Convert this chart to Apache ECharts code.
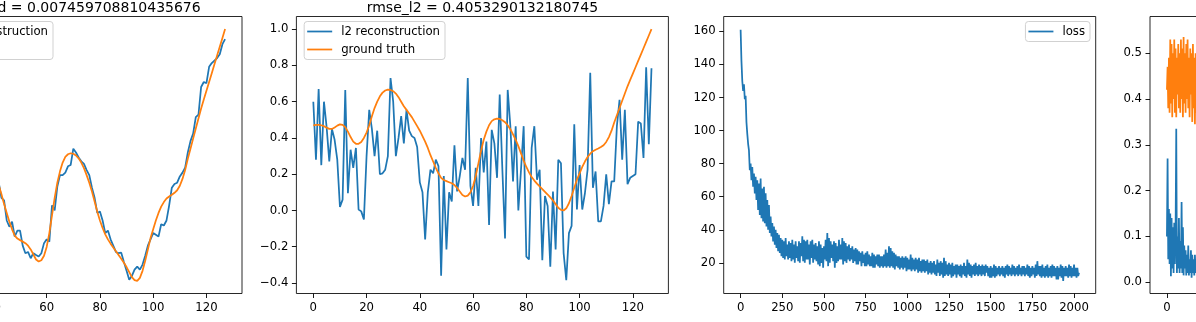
<!DOCTYPE html>
<html>
<head>
<meta charset="utf-8">
<script src="https://cdn.jsdelivr.net/npm/echarts@6/dist/echarts.min.js"></script>
<style>
  html, body { margin: 0; padding: 0; background: #fff; overflow: hidden; }
  #chart { width: 1196px; height: 322px; }
</style>
</head>
<body>
<div id="chart"></div>
<script>
// ground truth signal (shared by the first two panels), index 0..127
const groundTruth = [
  0.47, 0.472, 0.472, 0.47, 0.465, 0.457, 0.45, 0.45, 0.458, 0.468,
  0.475, 0.472, 0.46, 0.435, 0.405, 0.38, 0.368, 0.368, 0.378, 0.40,
  0.43, 0.47, 0.52, 0.565, 0.60, 0.63, 0.65, 0.662, 0.667, 0.665,
  0.658, 0.645, 0.625, 0.60, 0.575, 0.555, 0.535, 0.515, 0.49, 0.465,
  0.44, 0.41, 0.38, 0.345, 0.305, 0.27, 0.235, 0.205, 0.18, 0.168,
  0.162, 0.156, 0.15, 0.14, 0.125, 0.105, 0.085, 0.077, 0.082, 0.10,
  0.135, 0.19, 0.26, 0.33, 0.39, 0.435, 0.47, 0.493, 0.503, 0.507,
  0.505, 0.498, 0.487, 0.47, 0.448, 0.42, 0.39, 0.355, 0.315, 0.275,
  0.24, 0.21, 0.185, 0.165, 0.148, 0.133, 0.118, 0.103, 0.088, 0.072,
  0.055, 0.035, 0.015, 0.003, 0.0, 0.012, 0.04, 0.08, 0.125, 0.17,
  0.205, 0.24, 0.27, 0.295, 0.313, 0.327, 0.335, 0.342, 0.35, 0.36,
  0.378, 0.405, 0.44, 0.485, 0.525, 0.565, 0.605, 0.645, 0.685, 0.72,
  0.755, 0.79, 0.825, 0.86, 0.895, 0.93, 0.965, 1.0
];

const learnedRecon = [
  0.47, 0.46, 0.48, 0.47, 0.45, 0.46, 0.44, 0.45, 0.46, 0.47,
  0.48, 0.47, 0.45, 0.43, 0.40, 0.38, 0.37, 0.36, 0.38, 0.40,
  0.43, 0.48, 0.52, 0.56, 0.60, 0.62, 0.65, 0.66, 0.67, 0.66,
  0.66, 0.64, 0.62, 0.60, 0.58, 0.55, 0.53, 0.52, 0.49, 0.47,
  0.45, 0.42, 0.39, 0.33, 0.32, 0.24, 0.215, 0.235, 0.176, 0.20,
  0.20, 0.14, 0.11, 0.115, 0.09, 0.11, 0.103, 0.097, 0.11, 0.15,
  0.165, 0.156, 0.30, 0.28, 0.375, 0.42, 0.42, 0.43, 0.455, 0.46,
  0.525, 0.51, 0.49, 0.475, 0.465, 0.44, 0.42, 0.37, 0.33, 0.27,
  0.276, 0.24, 0.19, 0.20, 0.165, 0.14, 0.115, 0.11, 0.112, 0.075,
  0.04, 0.005, 0.02, 0.045, 0.057, 0.045, 0.065, 0.10, 0.14, 0.165,
  0.19, 0.183, 0.176, 0.225, 0.22, 0.24, 0.30, 0.37, 0.385, 0.39,
  0.415, 0.43, 0.45, 0.51, 0.555, 0.585, 0.65, 0.66, 0.77, 0.79,
  0.785, 0.85, 0.865, 0.875, 0.885, 0.90, 0.94, 0.96
];

const l2Recon = [
  0.60, 0.28, 0.67, 0.25, 0.60, 0.46, 0.27, 0.45, 0.39, 0.28,
  0.02, 0.06, 0.665, 0.095, 0.335, 0.235, 0.345, 0.005, -0.005, -0.05,
  0.30, 0.555, 0.45, 0.30, 0.44, 0.20, 0.205, 0.225, 0.30, 0.73,
  0.60, 0.30, 0.40, 0.52, 0.37, 0.555, 0.44, 0.41, 0.40, 0.35,
  0.155, 0.10, -0.16, 0.10, 0.225, 0.205, 0.28, 0.245, -0.36, 0.19,
  -0.215, 0.10, 0.05, 0.36, 0.105, 0.19, 0.29, 0.225, 0.73, 0.135,
  0.025, 0.235, 0.025, 0.40, 0.21, 0.38, -0.08, 0.445, 0.37, 0.18,
  0.64, 0.225, -0.155, 0.665, 0.465, 0.16, 0.465, 0.0, 0.225, 0.465,
  -0.255, -0.27, 0.345, 0.465, 0.17, 0.225, -0.275, 0.08, 0.025, -0.31,
  0.105, -0.215, 0.28, 0.26, -0.235, -0.385, -0.125, -0.085, 0.475, 0.005,
  0.25, 0.005, 0.095, 0.225, 0.76, 0.125, 0.215, -0.06, -0.06, 0.025,
  0.20, 0.035, 0.16, 0.16, 0.465, 0.61, 0.28, 0.555, 0.145, 0.18,
  0.19, 0.20, 0.49, 0.48, 0.29, 0.79, 0.365, 0.785
];

// training loss, one reading every 5 iterations (0..2030)
const lossStep = 5;
const lossValues = [
  161, 142, 130, 124, 128, 119, 121, 105, 98, 92,
  88, 76, 80, 70, 78, 66, 74, 62, 72, 58,
  70, 52, 68, 49, 71, 47, 65, 45, 66, 44,
  62, 42, 58, 40, 55, 38, 48, 36, 44, 33,
  42, 31, 40, 29, 38, 27, 37, 26, 35, 24,
  34, 23, 33, 22, 35, 24, 31, 22, 33, 23,
  32, 21, 34, 22, 31, 20, 33, 23, 30, 21,
  33, 20, 32, 24, 36, 21, 34, 20, 33, 22,
  34, 22, 31, 19, 33, 23, 34, 20, 31, 22,
  32, 21, 30, 19, 33, 18, 31, 20, 29, 17,
  30, 22, 34, 21, 38, 18, 35, 20, 33, 23,
  31, 21, 33, 17, 32, 20, 30, 21, 34, 22,
  31, 22, 35, 19, 33, 21, 32, 20, 30, 22,
  31, 21, 29, 22, 30, 20, 28, 21, 29, 19,
  28, 19, 27, 21, 26, 18, 27, 20, 25, 18,
  26, 18, 27, 19, 25, 18, 24, 18, 26, 17,
  25, 17, 24, 19, 25, 18, 25, 17, 24, 18,
  24, 17, 25, 18, 28, 17, 26, 18, 30, 17,
  29, 18, 27, 17, 26, 16, 25, 18, 24, 17,
  24, 16, 23, 17, 24, 16, 23, 17, 24, 15,
  23, 16, 22, 16, 25, 15, 23, 16, 22, 15,
  23, 16, 22, 14, 23, 15, 21, 14, 22, 15,
  22, 14, 21, 15, 22, 13, 20, 14, 21, 13,
  20, 14, 21, 13, 19, 12, 22, 14, 20, 12,
  21, 13, 20, 11, 23, 12, 21, 13, 19, 12,
  20, 13, 19, 11, 20, 12, 18, 13, 19, 11,
  19, 13, 18, 12, 19, 11, 18, 13, 20, 12,
  18, 11, 22, 13, 20, 12, 19, 11, 18, 13,
  19, 12, 20, 13, 18, 12, 19, 13, 18, 12,
  19, 13, 18, 12, 19, 14, 18, 12, 17, 11,
  18, 11, 17, 12, 19, 11, 18, 12, 17, 13,
  18, 12, 17, 13, 18, 12, 17, 11, 18, 13,
  19, 12, 18, 13, 17, 12, 19, 13, 18, 12,
  17, 13, 18, 12, 19, 13, 17, 12, 18, 13,
  18, 12, 17, 13, 19, 12, 18, 11, 17, 12,
  18, 13, 17, 11, 19, 12, 21, 13, 18, 12,
  18, 11, 19, 12, 17, 11, 18, 12, 19, 11,
  17, 12, 18, 11, 19, 12, 18, 12, 17, 10,
  18, 10, 17, 12, 19, 11, 18, 9, 17, 12,
  18, 12, 17, 11, 19, 12, 18, 11, 17, 12,
  19, 12, 17, 11, 17, 12, 14
];

// last panel, only its first iterations are inside the window
const paramStep = 4;
const paramBlue = [
  0.10, 0.27, 0.05, 0.16, 0.04, 0.15, 0.013, 0.14, 0.03, 0.12,
  0.02, 0.13, 0.04, 0.11, 0.335, 0.02, 0.10, 0.03, 0.14, 0.02,
  0.09, 0.03, 0.175, 0.02, 0.12, 0.015, 0.08, 0.03, 0.07, 0.015,
  0.06, 0.02, 0.08, 0.015, 0.05, 0.02, 0.07, 0.01, 0.06, 0.02,
  0.05, 0.015, 0.06, 0.02, 0.05, 0.015
];
const paramOrange = [
  0.42, 0.47, 0.38, 0.49, 0.37, 0.53, 0.39, 0.52, 0.36, 0.50,
  0.40, 0.53, 0.37, 0.51, 0.36, 0.49, 0.41, 0.52, 0.38, 0.50,
  0.37, 0.53, 0.40, 0.51, 0.36, 0.535, 0.39, 0.50, 0.37, 0.52,
  0.40, 0.53, 0.38, 0.49, 0.36, 0.51, 0.41, 0.50, 0.35, 0.52,
  0.38, 0.49, 0.345, 0.50, 0.37, 0.48
];

const signalTicks = [0, 20, 40, 60, 80, 100, 120];
const learnedYTicks = [0, 0.2, 0.4, 0.6, 0.8, 1.0];
const l2YTicks = [-0.4, -0.2, 0, 0.2, 0.4, 0.6, 0.8, 1.0];
const lossXTicks = [0, 250, 500, 750, 1000, 1250, 1500, 1750, 2000];
const lossYTicks = [20, 40, 60, 80, 100, 120, 140, 160];
const paramXTicks = [0, 500, 1000, 1500, 2000];
const paramYTicks = [0, 0.1, 0.2, 0.3, 0.4, 0.5];

const titles = ['rmse_learned = 0.007459708810435676', 'rmse_l2 = 0.4053290132180745'];

const FONT = 'DejaVu Sans';
const BLUE = '#1f77b4';
const ORANGE = '#ff7f0e';
const INK = '#000';

const indexed = (vals, step) => vals.map((v, i) => [i * step, v]);
const fixed = d => v => v.toFixed(d).replace('-', '\u2212');
const plain = v => String(v);

const GRID_TOP = 16.5, GRID_H = 277, GRID_W = 372;
const gridLefts = [-130, 296.4, 723.7, 1150];

function valueAxis(gi, min, max, ticks, fmt, isX) {
  return {
    type: 'value', gridIndex: gi, min: min, max: max,
    axisLine: { show: false, onZero: false },
    splitLine: { show: false },
    axisTick: { show: true, inside: false, length: 4.5, customValues: ticks,
                lineStyle: { color: INK, width: 0.9 } },
    axisLabel: { customValues: ticks, formatter: fmt, color: INK,
                 fontFamily: FONT, fontSize: 11.7, margin: isX ? 8.5 : 8 }
  };
}

function lineSeries(name, data, color, gi) {
  return {
    type: 'line', name: name, data: data, xAxisIndex: gi, yAxisIndex: gi,
    symbol: 'none', showSymbol: false, animation: false, clip: true,
    lineStyle: { color: color, width: 1.75 }, itemStyle: { color: color }
  };
}

function legendBox(names, right) {
  return {
    orient: 'vertical', right: right, top: 21.5, data: names,
    selectedMode: false, icon: 'rect', itemWidth: 25, itemHeight: 1.75, itemGap: 4,
    padding: [3, 5, 3, 3],
    backgroundColor: 'rgba(255,255,255,0.8)',
    borderColor: '#cccccc', borderWidth: 0.9, borderRadius: 3,
    textStyle: { fontFamily: FONT, fontSize: 11.7, color: INK, lineHeight: 14,
                 padding: [0, 0, 0, 4] }
  };
}

const chart = echarts.init(document.getElementById('chart'), null, { renderer: 'canvas' });
chart.setOption({
  backgroundColor: '#fff',
  animation: false,
  title: titles.map((t, k) => ({
    text: t, left: gridLefts[k] + GRID_W / 2, top: 1.5, textAlign: 'center', padding: 0,
    textStyle: { fontFamily: FONT, fontSize: 14, fontWeight: 'normal', color: INK }
  })),
  legend: [
    legendBox(['learned reconstruction', 'ground truth'], 1143),
    legendBox(['l2 reconstruction', 'ground truth'], 751),
    legendBox(['loss'], 106)
  ],
  grid: gridLefts.map(l => ({
    left: l, top: GRID_TOP, width: GRID_W, height: GRID_H,
    show: true, borderColor: '#111', borderWidth: 0.9,
    containLabel: false, outerBoundsMode: 'none'
  })),
  xAxis: [
    valueAxis(0, -6.35, 133.35, signalTicks, plain, true),
    valueAxis(1, -6.35, 133.35, signalTicks, plain, true),
    valueAxis(2, -101.5, 2130, lossXTicks, plain, true),
    valueAxis(3, -101.5, 2130, paramXTicks, plain, true)
  ],
  yAxis: [
    valueAxis(0, -0.05, 1.05, learnedYTicks, fixed(1), false),
    valueAxis(1, -0.458, 1.07, l2YTicks, fixed(1), false),
    valueAxis(2, 1.45, 169, lossYTicks, plain, false),
    valueAxis(3, -0.0246, 0.58, paramYTicks, fixed(1), false)
  ],
  series: [
    lineSeries('learned reconstruction', indexed(learnedRecon, 1), BLUE, 0),
    lineSeries('ground truth', indexed(groundTruth, 1), ORANGE, 0),
    lineSeries('l2 reconstruction', indexed(l2Recon, 1), BLUE, 1),
    lineSeries('ground truth', indexed(groundTruth, 1), ORANGE, 1),
    lineSeries('loss', indexed(lossValues, lossStep), BLUE, 2),
    lineSeries('param a', indexed(paramBlue, paramStep), BLUE, 3),
    lineSeries('param b', indexed(paramOrange, paramStep), ORANGE, 3)
  ]
});
</script>
</body>
</html>
